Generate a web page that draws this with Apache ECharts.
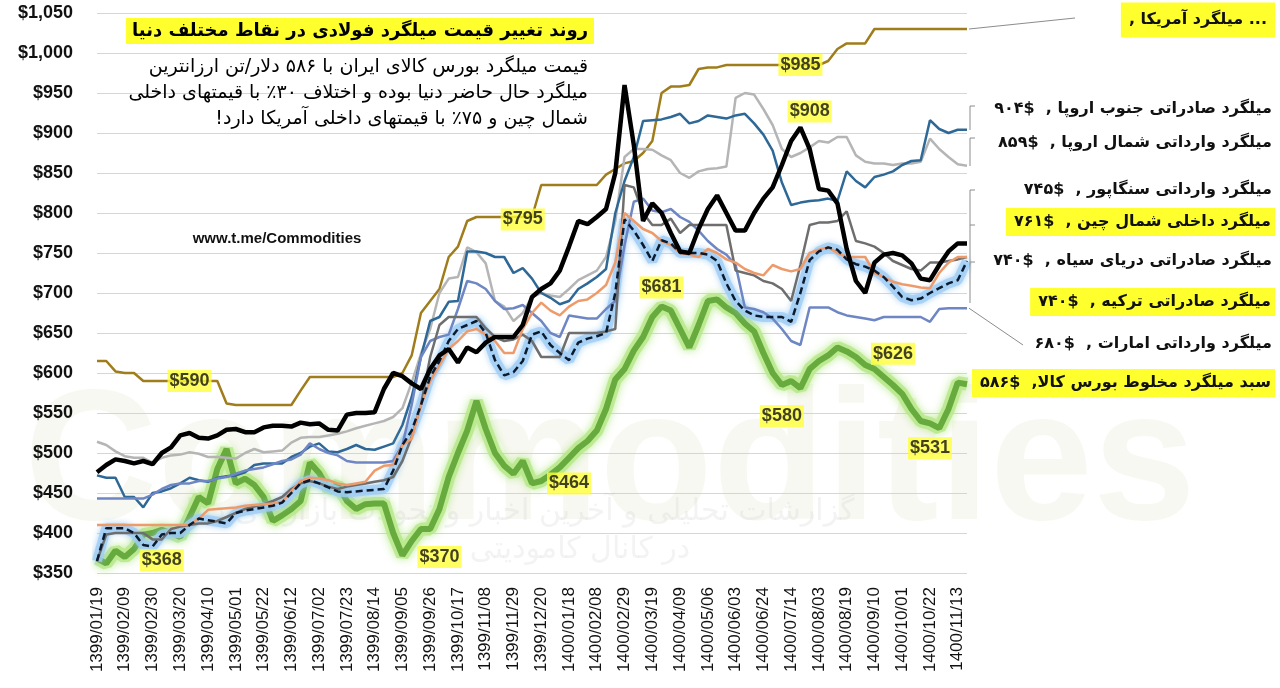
<!DOCTYPE html>
<html>
<head>
<meta charset="utf-8">
<title>روند تغییر قیمت میلگرد فولادی</title>
<script src="https://cdn.jsdelivr.net/npm/echarts@6/dist/echarts.min.js"></script>
<style>
  html, body { margin: 0; padding: 0; background: #fff; }
  #chart { width: 1280px; height: 688px; }
</style>
</head>
<body>
<div id="chart"></div>
<script>
// weekly dates, every 3rd one is shown on the axis
const dates = [
  '1399/01/19', '1399/01/26', '1399/02/02', '1399/02/09', '1399/02/16', '1399/02/23', '1399/02/30', '1399/03/06', '1399/03/13', '1399/03/20',
  '1399/03/27', '1399/04/03', '1399/04/10', '1399/04/17', '1399/04/24', '1399/05/01', '1399/05/08', '1399/05/15', '1399/05/22', '1399/05/29',
  '1399/06/05', '1399/06/12', '1399/06/19', '1399/06/26', '1399/07/02', '1399/07/09', '1399/07/16', '1399/07/23', '1399/07/30', '1399/08/07',
  '1399/08/14', '1399/08/21', '1399/08/28', '1399/09/05', '1399/09/12', '1399/09/19', '1399/09/26', '1399/10/03', '1399/10/10', '1399/10/17',
  '1399/10/24', '1399/11/01', '1399/11/08', '1399/11/15', '1399/11/22', '1399/11/29', '1399/12/06', '1399/12/13', '1399/12/20', '1399/12/27',
  '1400/01/11', '1400/01/18', '1400/01/25', '1400/02/01', '1400/02/08', '1400/02/15', '1400/02/22', '1400/02/29', '1400/03/05', '1400/03/12',
  '1400/03/19', '1400/03/26', '1400/04/02', '1400/04/09', '1400/04/16', '1400/04/23', '1400/05/06', '1400/05/20', '1400/05/27', '1400/06/03',
  '1400/06/10', '1400/06/17', '1400/06/24', '1400/06/31', '1400/07/07', '1400/07/14', '1400/07/21', '1400/07/28', '1400/08/03', '1400/08/10',
  '1400/08/15', '1400/08/19', '1400/08/26', '1400/09/03', '1400/09/10', '1400/09/17', '1400/09/24', '1400/10/01', '1400/10/08', '1400/10/15',
  '1400/10/22', '1400/10/29', '1400/11/06', '1400/11/13', '1400/11/20'
]

// میلگرد آمریکا
const usa = [
  615, 615, 602, 600, 600, 590, 590, 590, 590, 590,
  590, 590, 590, 590, 562, 560, 560, 560, 560, 560,
  560, 560, 578, 595, 595, 595, 595, 595, 595, 595,
  595, 595, 595, 600, 622, 675, 690, 705, 745, 758,
  790, 795, 795, 795, 795, 795, 795, 795, 835, 835,
  835, 835, 835, 835, 835, 848, 855, 862, 865, 875,
  890, 950, 958, 958, 960, 980, 982, 982, 985, 985,
  985, 985, 985, 985, 985, 985, 985, 985, 985, 990,
  1005, 1012, 1012, 1012, 1030, 1030, 1030, 1030, 1030, 1030,
  1030, 1030, 1030, 1030, 1030
]
// صادراتی جنوب اروپا
const southEurope = [
  472, 469, 469, 445, 445, 432, 450, 452, 456, 462,
  469, 466, 464, 469, 471, 472, 476, 485, 487, 487,
  487, 495, 500, 508, 512, 502, 501, 505, 510, 505,
  504, 508, 512, 535, 570, 620, 665, 670, 689, 690,
  752, 752, 750, 745, 745, 725, 731, 718, 700, 694,
  686, 690, 705, 712, 720, 730, 800, 840, 870, 915,
  916, 917, 920, 924, 912, 915, 922, 920, 918, 922,
  924, 912, 898, 878, 838, 810, 813, 815, 816, 818,
  815, 852, 840, 832, 845, 848, 852, 860, 865, 866,
  916, 905, 900, 904, 904
]
// وارداتی شمال اروپا
const northEurope = [
  514, 510, 502, 496, 494, 494, 488, 494, 497, 498,
  501, 499, 495, 495, 494, 493, 500, 505, 501, 502,
  503, 513, 519, 520, 520, 522, 524, 527, 531, 534,
  537, 540, 545, 556, 588, 624, 655, 700, 718, 720,
  757, 751, 737, 690, 683, 665, 675, 695, 700, 697,
  695, 705, 716, 722, 728, 745, 790, 870, 880, 880,
  879, 872, 866, 850, 844, 852, 855, 856, 858, 944,
  950, 948, 930, 910, 880, 870, 875, 882, 890, 888,
  895, 895, 872, 864, 862, 862, 860, 862, 862, 864,
  893, 880, 870, 861, 859
]
// وارداتی سنگاپور
const singapore = [
  365, 398, 400, 400, 400, 400, 392, 392, 405, 408,
  410, 412, 412, 415, 420, 425, 430, 433, 436, 440,
  445, 455, 462, 465, 462, 458, 455, 458, 460, 462,
  464, 466, 470, 490, 520, 560, 620, 660, 670, 670,
  670, 670, 656, 645, 640, 642, 648, 640, 620, 620,
  620, 650, 650, 650, 650, 652, 655, 835, 832, 800,
  785, 785, 793, 775, 785, 785, 785, 785, 785, 728,
  725, 722, 715, 712, 705, 690, 735, 785, 788, 788,
  790, 802, 765, 762, 758, 750, 740, 735, 730, 728,
  738, 738, 740, 742, 745
]
// داخلی شمال چین
const northChina = [
  476, 485, 492, 490, 487, 490, 486, 500, 507, 522,
  525, 519, 518, 522, 529, 530, 526, 526, 532, 534,
  534, 533, 538, 536, 537, 529, 528, 548, 550, 550,
  551, 580, 600, 596, 587, 580, 605, 622, 630, 613,
  632, 626, 638, 645, 645, 645, 660, 695, 705, 712,
  728, 758, 790, 786, 795, 805, 850, 960, 885, 790,
  812, 800, 775, 752, 750, 780, 805, 822, 800, 778,
  778, 800, 818, 832, 860, 890, 907, 880, 830, 828,
  812, 755, 715, 700, 738, 748, 750, 747, 737, 718,
  716, 735, 752, 762, 762
]
// صادراتی دریای سیاه
const blackSea = [
  410, 410, 410, 410, 410, 410, 410, 410, 410, 410,
  410, 418, 429, 430, 431, 432, 434, 435, 436, 437,
  439, 452, 465, 469, 468, 466, 462, 460, 462, 464,
  478, 484, 485, 510, 518, 560, 590, 610, 630, 640,
  652, 655, 648, 640, 625, 625, 655, 675, 688, 678,
  672, 683, 690, 692, 700, 710, 738, 800, 790, 780,
  775, 765, 760, 750, 748, 745, 755, 750, 742, 738,
  730, 725, 722, 735, 730, 727, 730, 750, 754, 757,
  750, 745, 745, 745, 725, 720, 714, 711, 709, 707,
  706, 725, 738, 745, 745
]
// صادراتی ترکیه
const turkey = [
  365, 406, 406, 406, 400, 385, 383, 398, 400, 400,
  410, 418, 416, 414, 412, 425, 428, 430, 432, 434,
  438, 450, 462, 466, 462, 457, 452, 451, 452, 453,
  454, 455, 478, 510, 528, 560, 595, 615, 640, 655,
  660, 665, 650, 616, 597, 601, 615, 648, 652, 635,
  625, 616, 638, 643, 646, 650, 700, 792, 778, 760,
  740, 766, 762, 750, 750, 750, 748, 740, 712, 690,
  678, 672, 670, 670, 670, 664, 700, 741, 752, 757,
  754, 742, 736, 733, 728, 720, 708, 695, 691, 693,
  700, 706, 712, 716, 740
]
// وارداتی امارات
const uae = [
  443, 443, 443, 443, 443, 443, 448, 455, 460, 462,
  462, 465, 465, 468, 470, 474, 478, 480, 482, 486,
  490, 492, 498, 512, 505, 500, 497, 490, 488, 488,
  488, 488, 490, 510, 560, 620, 640, 645, 648, 680,
  715, 712, 705, 690, 680, 681, 685, 675, 665, 650,
  645, 672, 670, 668, 668, 680, 690, 760, 814, 818,
  803, 801, 805, 795, 789, 778, 765, 755, 748, 735,
  682, 680, 676, 668, 655, 640, 635, 682, 682, 682,
  676, 672, 670, 668, 666, 670, 670, 670, 670, 670,
  664, 680, 681, 681, 681
]
// سبد میلگرد بورس کالا
const iranMix = [
  368, 362, 378, 370, 380, 398, 400, 404, 400, 395,
  420, 445, 437, 480, 505, 462, 468, 460, 445, 415,
  422, 430, 440, 488, 475, 455, 460, 440, 430, 436,
  437, 437, 400, 372, 390, 405, 405, 430, 470, 500,
  528, 565, 530, 500, 484, 474, 490, 462, 465, 473,
  482, 494, 506, 515, 528, 555, 592, 605, 628, 645,
  670, 683, 678, 655, 632, 660, 690, 692, 682, 675,
  662, 652, 625, 600, 585, 590, 581, 605, 615, 622,
  632, 627, 620, 610, 605, 595, 585, 574, 555, 540,
  537, 531, 555, 588, 586
]

// yellow value notes on the chart
const noteIdx = [10, 7, 37, 46, 51, 61, 76, 77, 74, 86, 90]
const noteVal = [590, 366, 370, 792, 462, 707, 985, 927, 546, 624, 506]
const noteText = ['$590', '$368', '$370', '$795', '$464', '$681', '$985', '$908', '$580', '$626', '$531']

// right hand labels, written in visual order
const sideTexts = [
  ', میلگرد آمریکا ...',
  '۹۰۴$  , میلگرد صادراتی جنوب اروپا',
  '۸۵۹$  , میلگرد وارداتی شمال اروپا',
  '۷۴۵$  , میلگرد وارداتی سنگاپور',
  '۷۶۱$  , میلگرد داخلی شمال چین',
  '۷۴۰$  , میلگرد صادراتی دریای سیاه',
  '۷۴۰$  , میلگرد صادراتی ترکیه',
  '۶۸۰$  , میلگرد وارداتی امارات',
  '۵۸۶$  ,سبد میلگرد مخلوط بورس کالا'
]
const sideY = [20, 109, 143, 190, 222, 261, 302, 344, 383]
const sideMark = [true, false, false, false, true, false, true, false, true]

const title = 'روند تغییر قیمت میلگرد فولادی در نقاط مختلف دنیا'
const subtitle = [
  'قیمت میلگرد بورس کالای ایران با ۵۸۶ دلار/تن ارزانترین',
  'میلگرد حال حاضر دنیا بوده و اختلاف ۳۰٪ با قیمتهای داخلی',
  'شمال چین و ۷۵٪ با قیمتهای داخلی آمریکا دارد!\u200F'
]

const FA = "'DejaVu Sans', sans-serif"
const EN = "'Liberation Sans', Arial, sans-serif"

function line (name, data, color, width, extra) {
  return Object.assign({
    name: name,
    type: 'line',
    data: data,
    symbol: 'none',
    silent: true,
    lineStyle: { color: color, width: width },
    itemStyle: { color: color }
  }, extra || {})
}

let chart = echarts.init(document.getElementById('chart'))

chart.setOption({
  animation: false,
  backgroundColor: '#fff',
  grid: { left: 97, right: 313, top: 13, bottom: 115 },
  xAxis: {
    type: 'category',
    data: dates,
    boundaryGap: false,
    axisLine: { show: false },
    axisTick: { show: false },
    axisLabel: {
      interval: 2,
      rotate: 90,
      margin: 14,
      fontSize: 17,
      color: '#111',
      fontFamily: EN
    }
  },
  yAxis: {
    type: 'value',
    min: 350,
    max: 1050,
    interval: 50,
    axisLine: { show: false },
    axisTick: { show: false },
    splitLine: { lineStyle: { color: '#d6d6d6', width: 1 } },
    axisLabel: {
      margin: 24,
      fontSize: 18,
      fontWeight: 'bold',
      color: '#111',
      fontFamily: EN,
      formatter: function (v) { return '$' + v.toLocaleString('en-US') }
    }
  },
  series: [
    line('glowIran', iranMix, 'rgba(185,232,140,0.85)', 13, { z: 1, lineStyle: { color: 'rgba(185,232,140,0.85)', width: 13, shadowBlur: 8, shadowColor: 'rgba(170,230,120,0.9)' } }),
    line('Iran', iranMix, '#67aa3d', 6, { z: 2 }),
    line('USA', usa, '#a07d1c', 2.5, { z: 3 }),
    line('NorthEurope', northEurope, '#b5b5b5', 2.5, { z: 3 }),
    line('SouthEurope', southEurope, '#2e6896', 2.5, { z: 3 }),
    line('glowTurkey', turkey, 'rgba(150,200,242,0.8)', 10, { z: 3, lineStyle: { color: 'rgba(160,205,245,0.8)', width: 10, shadowBlur: 6, shadowColor: 'rgba(140,195,240,0.9)' } }),
    line('UAE', uae, '#6f86c4', 2.5, { z: 4 }),
    line('Singapore', singapore, '#6e6e6e', 2.5, { z: 4 }),
    line('BlackSea', blackSea, '#ee9b6c', 2.5, { z: 5 }),
    line('Turkey', turkey, '#0c1a2e', 2.5, { z: 6, lineStyle: { color: '#0c1a2e', width: 2.5, type: [7, 4] } }),
    line('NorthChina', northChina, '#000', 4.5, { z: 7 }),
    {
      name: 'notes',
      type: 'scatter',
      silent: true,
      z: 10,
      symbolSize: 0,
      data: noteIdx.map(function (idx, k) { return [idx, noteVal[k]] }),
      label: {
        show: true,
        position: 'inside',
        formatter: function (p) { return noteText[p.dataIndex] },
        backgroundColor: '#ffff3a',
        color: '#111',
        fontWeight: 'bold',
        fontSize: 18,
        fontFamily: EN,
        padding: [3, 2, 1, 2]
      }
    }
  ]
})

// pixel helpers for the annotations
const last = dates.length - 1
const endOf = function (arr) { return chart.convertToPixel({ gridIndex: 0 }, [last, arr[last]]) }
const endX = endOf(usa)[0]

let elements = []

// faint watermark
elements.push({
  type: 'text', z: 0, silent: true,
  style: { text: 'Commodities', x: 610, y: 468, align: 'center', verticalAlign: 'middle', font: "bold 185px " + EN, fill: 'rgba(215,212,180,0.17)' }
})
elements.push({
  type: 'text', z: 0, silent: true,
  style: { text: 'گزارشات تحلیلی و آخرین اخبار و تحولات بازارهای دنیا', x: 520, y: 512, align: 'center', verticalAlign: 'middle', font: '30px ' + FA, fill: 'rgba(200,200,200,0.22)' }
})
elements.push({
  type: 'text', z: 0, silent: true,
  style: { text: 'در کانال کامودیتی', x: 580, y: 550, align: 'center', verticalAlign: 'middle', font: '30px ' + FA, fill: 'rgba(200,200,200,0.22)' }
})

// title block
elements.push({
  type: 'text', z: 100, silent: true,
  style: { text: title, x: 594, y: 31, align: 'right', verticalAlign: 'middle', font: 'bold 18px ' + FA, fill: '#000', backgroundColor: '#ffff2e', padding: [4, 6, 4, 6] }
})
subtitle.forEach(function (t, k) {
  elements.push({
    type: 'text', z: 100, silent: true,
    style: { text: t, x: 588, y: 67 + k * 26, align: 'right', verticalAlign: 'middle', font: '19px ' + FA, fill: '#000' }
  })
})
elements.push({
  type: 'text', z: 100, silent: true,
  style: { text: 'www.t.me/Commodities', x: 277, y: 239, align: 'center', verticalAlign: 'middle', font: 'bold 15px ' + EN, fill: '#111' }
})

// right side labels
sideTexts.forEach(function (t, k) {
  let st = { text: t, x: 1272, y: sideY[k], align: 'right', verticalAlign: 'middle', font: 'bold 16px ' + FA, fill: '#111' }
  if (sideMark[k]) {
    st.backgroundColor = '#ffff2e'
    st.padding = k === 0 ? [10, 8, 9, 8] : [6, 4, 6, 8]
    st.x = 1275
  }
  elements.push({ type: 'text', z: 100, silent: true, style: st })
})

// connectors from the line ends to their labels
const gray = '#8c8c8c'
const pUsa = endOf(usa)
const pUae = endOf(uae)
elements.push({ type: 'line', z: 90, silent: true, shape: { x1: pUsa[0] + 2, y1: pUsa[1], x2: 1075, y2: 18 }, style: { stroke: gray, lineWidth: 1 } })
elements.push({ type: 'line', z: 90, silent: true, shape: { x1: pUae[0] + 2, y1: pUae[1], x2: 1023, y2: 345 }, style: { stroke: gray, lineWidth: 1 } })
const brackets = [[106, 130], [138, 166], [190, 225], [225, 262], [262, 303]]
brackets.forEach(function (b) {
  elements.push({
    type: 'polyline', z: 90, silent: true,
    shape: { points: [[endX + 8, b[0]], [endX + 3, b[0]], [endX + 3, b[1]]] },
    style: { stroke: gray, lineWidth: 1, fill: null }
  })
})

chart.setOption({ graphic: { elements: elements } })
</script>
</body>
</html>
